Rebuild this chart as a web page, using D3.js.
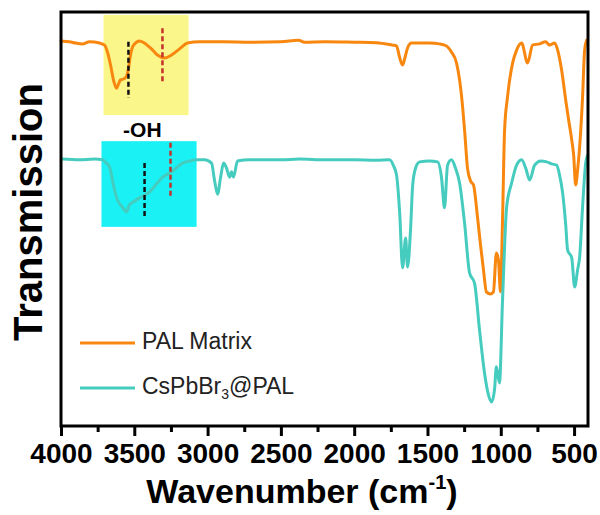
<!DOCTYPE html>
<html>
<head>
<meta charset="utf-8">
<script src="https://cdn.jsdelivr.net/npm/d3@7"></script>
<style>
  body { margin: 0; background: #fff; }
  svg { font-family: "Liberation Sans", Arial, sans-serif; }
  .line { fill: none; stroke-width: 3; stroke-linejoin: round; stroke-linecap: round; }
</style>
</head>
<body>
<svg class="ftir" width="600" height="515"></svg>
<script>
// PAL Matrix spectrum (wavenumber, transmission a.u.)
var palWn = [4000, 3942, 3900, 3853, 3806, 3737, 3703, 3683, 3662, 3642, 3621, 3608, 3594, 3574, 3553, 3539,
  3526, 3505, 3464, 3423, 3383, 3342, 3294, 3246, 3191, 3137, 3055, 2900, 2700, 2500, 2380, 2340, 2200, 2000,
  1850, 1738, 1711, 1690, 1670, 1650, 1636, 1609, 1554, 1486, 1418, 1370, 1336, 1302, 1281, 1267, 1247, 1227,
  1206, 1186, 1159, 1138, 1118, 1098, 1070, 1050, 1030, 1016, 1002, 988, 974, 954, 919, 892, 858, 817, 783,
  735, 694, 667, 633, 612, 585, 557, 537, 516, 503, 489, 476, 462, 442, 428, 414];
var palT = [93.0, 92.8, 92.5, 92.3, 92.8, 92.5, 92.0, 90.3, 87.2, 83.6, 81.6, 82.6, 83.6, 83.8, 84.5, 86.5,
  89.6, 92.0, 93.0, 92.3, 91.1, 89.6, 88.9, 89.6, 91.1, 92.5, 92.8, 92.8, 92.7, 92.8, 93.2, 92.7, 92.8, 92.7,
  92.6, 92.0, 91.8, 89.0, 87.2, 89.5, 91.3, 92.5, 92.5, 92.5, 92.3, 91.8, 90.3, 87.7, 83.6, 79.5, 71.5, 62.3,
  59.2, 58.2, 50.5, 43.7, 37.7, 32.4, 31.9, 32.4, 41.8, 40.1, 32.4, 49.8, 71.5, 79.5, 87.7, 90.8, 92.5, 87.7, 92.0,
  92.3, 92.8, 92.0, 92.5, 90.8, 86.0, 78.7, 73.9, 69.1, 65.5, 58.2, 61.8, 67.4, 79.5, 90.8, 93.2];

// CsPbBr3@PAL spectrum
var csWn = [3990, 3874, 3771, 3717, 3690, 3669, 3649, 3635, 3615, 3587, 3567, 3553, 3533, 3499, 3464, 3430,
  3396, 3348, 3307, 3246, 3205, 3171, 3123, 3075, 3021, 2973, 2953, 2932, 2912, 2891, 2871, 2850, 2837, 2823,
  2796, 2714, 2500, 2373, 2200, 2000, 1850, 1759, 1731, 1711, 1690, 1670, 1649, 1636, 1615, 1601, 1581, 1554,
  1486, 1431, 1404, 1384, 1363, 1336, 1309, 1281, 1247, 1213, 1179, 1145, 1111, 1084, 1063, 1043, 1030, 1009,
  988, 960, 926, 892, 858, 830, 803, 769, 728, 687, 653, 619, 599, 578, 557, 544, 516, 496, 476, 462, 442, 421, 407];
var csT = [64.5, 64.3, 64.5, 64.3, 63.5, 62.6, 59.4, 57.0, 54.6, 53.1, 52.2, 51.7, 53.4, 54.3, 55.1, 55.8,
  56.5, 58.5, 60.1, 61.4, 62.6, 63.5, 64.0, 64.3, 64.3, 63.5, 59.4, 56.0, 59.9, 63.5, 62.3, 60.1, 61.4, 60.1,
  64.0, 64.3, 64.3, 64.5, 64.3, 64.3, 64.2, 64.3, 62.8, 60.6, 51.7, 38.2, 45.4, 38.4, 47.8, 58.2, 62.3, 63.8,
  64.0, 63.8, 59.9, 52.7, 63.0, 64.3, 62.3, 58.7, 49.0, 37.0, 34.5, 23.2, 12.8, 7.5, 5.8, 8.7, 14.3, 10.4,
  30.4, 52.9, 58.7, 63.0, 64.3, 62.3, 59.4, 63.0, 64.0, 63.8, 63.3, 63.0, 60.6, 56.3, 48.6, 42.5, 40.6, 33.6, 37.7, 40.8, 52.9, 63.5, 65.5];

var seriesNames = ["PAL Matrix", "CsPbBr3@PAL"];
var seriesColors = ["#f7870f", "#45ccbf"];

var majorTicks = [4000, 3500, 3000, 2500, 2000, 1500, 1000, 500];
var minorTicks = [3750, 3250, 2750, 2250, 1750, 1250, 750];

// -OH highlight boxes [wn from, wn to, T top, T bottom] and marker lines [wn, T top, T bottom]
var boxes = [[3710, 3130, 99.3, 75.1, "#fbf68a"], [3724, 3075, 68.8, 48.1, "#19f1f5"]];
var markers = [[3540, 92.8, 79.2, "#111"], [3308, 96.1, 82.9, "#c4302b"],
               [3430, 63.5, 50.0, "#111"], [3253, 68.4, 55.1, "#c4302b"]];

var margin = {top: 12, right: 12, bottom: 89, left: 61},
    width = 600 - margin.left - margin.right,
    height = 515 - margin.top - margin.bottom;

var x = d3.scaleLinear().domain([4000, 405]).range([0, width]);
var y = d3.scaleLinear().domain([0, 100]).range([height, 0]);

var svg = d3.select(".ftir");
var graph = svg.append("g")
    .attr("transform", "translate(" + margin.left + "," + margin.top + ")");

// highlight boxes
graph.selectAll(".box")
    .data(boxes)
  .enter().append("rect")
    .attr("class", "box")
    .attr("x", function(d) { return x(d[0]); })
    .attr("width", function(d) { return x(d[1]) - x(d[0]); })
    .attr("y", function(d) { return y(d[2]); })
    .attr("height", function(d) { return y(d[3]) - y(d[2]); })
    .attr("fill", function(d) { return d[4]; });

var line = d3.line()
    .x(function(d) { return x(d[0]); })
    .y(function(d) { return y(d[1]); })
    .curve(d3.curveMonotoneX);

var series = [d3.zip(palWn, palT), d3.zip(csWn, csT)];

graph.selectAll(".line")
    .data(series)
  .enter().append("path")
    .attr("class", "line")
    .attr("stroke", function(d, i) { return seriesColors[i]; })
    .attr("d", line);

// dashed marker lines
graph.selectAll(".marker")
    .data(markers)
  .enter().append("line")
    .attr("x1", function(d) { return x(d[0]); })
    .attr("x2", function(d) { return x(d[0]); })
    .attr("y1", function(d) { return y(d[1]); })
    .attr("y2", function(d) { return y(d[2]); })
    .attr("stroke", function(d) { return d[3]; })
    .attr("stroke-width", 2.5)
    .attr("stroke-dasharray", "5,3");

graph.append("text")
    .attr("x", x(3445))
    .attr("y", 125)
    .attr("text-anchor", "middle")
    .attr("font-weight", "bold")
    .attr("font-size", 21)
    .text("-OH");

// frame
graph.append("rect")
    .attr("width", width)
    .attr("height", height)
    .attr("fill", "none")
    .attr("stroke", "#000")
    .attr("stroke-width", 3);

// axis
var xAxis = graph.append("g")
    .attr("transform", "translate(0," + height + ")")
    .call(d3.axisBottom(x).tickValues(majorTicks).tickSize(10).tickSizeOuter(0).tickFormat(d3.format("d")));
xAxis.select(".domain").remove();
xAxis.selectAll("line").attr("stroke-width", 3);
xAxis.selectAll("text")
    .attr("y", 17)
    .attr("font-size", 28)
    .attr("font-weight", "bold")
    .attr("font-family", "'Liberation Sans', Arial, sans-serif")
    .attr("fill", "#000");

var minorAxis = graph.append("g")
    .attr("transform", "translate(0," + height + ")")
    .call(d3.axisBottom(x).tickValues(minorTicks).tickSize(6).tickSizeOuter(0).tickFormat(""));
minorAxis.select(".domain").remove();
minorAxis.selectAll("line").attr("stroke-width", 3);

// axis titles
var xTitle = svg.append("text")
    .attr("x", 302)
    .attr("y", 503)
    .attr("text-anchor", "middle")
    .attr("font-size", 34)
    .attr("font-weight", "bold");
xTitle.append("tspan").text("Wavenumber (cm");
xTitle.append("tspan").attr("font-size", 20).attr("dy", -14).text("-1");
xTitle.append("tspan").attr("dy", 14).text(")");

svg.append("text")
    .attr("transform", "translate(42,212) rotate(-90)")
    .attr("text-anchor", "middle")
    .attr("font-size", 40)
    .attr("font-weight", "bold")
    .text("Transmission");

// legend
var legend = svg.selectAll(".legend")
    .data(seriesNames)
  .enter().append("g")
    .attr("class", "legend")
    .attr("transform", function(d, i) { return "translate(80," + (343 + i * 45) + ")"; });

legend.append("line")
    .attr("x2", 55)
    .attr("stroke", function(d, i) { return seriesColors[i]; })
    .attr("stroke-width", 3);

legend.append("text")
    .attr("x", 62)
    .attr("y", 6)
    .attr("font-size", 23)
    .attr("fill", "#222")
    .each(function(d) {
        var t = d3.select(this);
        var m = d.match(/^(.*?)(\d)(@.*)$/);
        if (!m) { t.text(d); return; }
        t.append("tspan").text(m[1]);
        t.append("tspan").attr("font-size", 14).attr("dy", 5).text(m[2]);
        t.append("tspan").attr("dy", -5).text(m[3]);
    });
</script>
</body>
</html>
